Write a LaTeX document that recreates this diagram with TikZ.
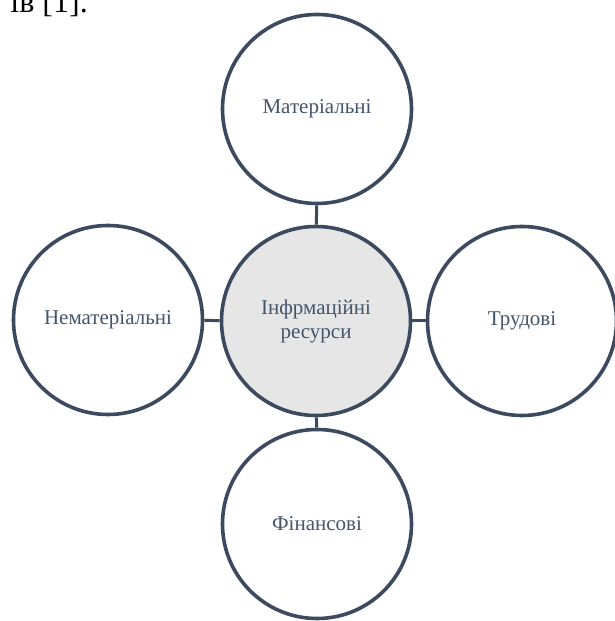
\documentclass[tikz,border=0pt]{standalone}
\usepackage{fontspec}
\setmainfont{Liberation Serif}
\usepackage{tikz}
\definecolor{ringcol}{RGB}{59,74,94}
\definecolor{labelcol}{RGB}{68,84,106}
\definecolor{hubfill}{RGB}{230,230,230}
\tikzset{
  ring/.style={circle,draw=ringcol,line width=3.6pt,minimum size=189pt,inner sep=0pt,
    text=labelcol,align=center,font=\fontsize{21}{24}\selectfont},
  link/.style={draw=ringcol,line width=3pt}
}
\begin{document}
\begin{tikzpicture}[x=1pt,y=1pt]
  % Frame of the picture
  \useasboundingbox (0,0) rectangle (615,621);
  % Parameters: circle centres
  \def\hubX{316}
  \def\hubY{300}
  % Text cut from the page above
  \node[anchor=base east,inner sep=0pt,font=\fontsize{32}{36}\selectfont] (prev) at (88,608) {ів [1].};
  % Central circle
  \node[ring,fill=hubfill] (hub) at (\hubX,\hubY) {Інфрмаційні\\ресурси};
  % Outer circles
  \node[ring,fill=white] (top) at (317,512) {Матеріальні};
  \node[ring,fill=white] (bottom) at (317,97) {Фінансові};
  \node[ring,fill=white] (left) at (108,301) {Нематеріальні};
  \node[ring,fill=white] (right) at (522,300) {Трудові};
  % Links
  \foreach \n in {top,bottom,left,right}
  {\draw[link] (hub) -- (\n);}
\end{tikzpicture}
\end{document}
